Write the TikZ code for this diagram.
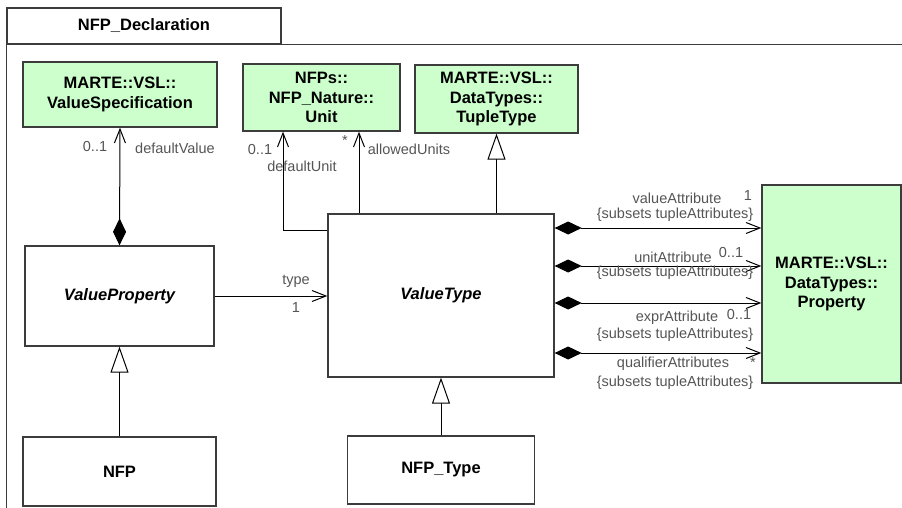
\documentclass[tikz,border=0pt]{standalone}
\usepackage{fontspec}
\setmainfont{Liberation Sans}
\usetikzlibrary{arrows.meta,calc}
\definecolor{boxgreen}{RGB}{204,255,204}
\definecolor{linec}{RGB}{60,60,60}
\definecolor{labc}{RGB}{85,85,85}
\begin{document}
\begin{tikzpicture}[x=1pt,y=-1pt,
  cls/.style={draw=linec,line width=1.3pt,minimum width=#1,inner sep=0pt,align=center,
     font=\fontsize{16.5}{19.5}\selectfont\bfseries},
  ext/.style={fill=boxgreen},
  lab/.style={text=labc,font=\fontsize{14.5}{16}\selectfont,inner sep=0pt},
  conn/.style={draw=black,line width=1pt},
  nav/.style={conn,-{Straight Barb[length=14pt,width=11pt,line width=1pt]}},
  compnav/.style={conn,{Diamond[length=27pt,width=13pt]}-{Straight Barb[length=14pt,width=11pt,line width=1pt]}},
  gen/.style={conn,-{Triangle[open,length=26pt,width=18pt,fill=white,line width=1pt]}}
]
\useasboundingbox (0,0) rectangle (902,508);
% package frame
\node[draw=linec,line width=1.3pt,minimum width=274pt,minimum height=36pt,inner sep=0pt,
  font=\fontsize{16.5}{19}\selectfont\bfseries] (tab) at (144,26) {NFP\_Declaration};
\coordinate (fr) at (902,44);
\coordinate (fb) at (7,508);
\draw[linec,line width=1.3pt] (tab.south west) -- (tab.south west -| fr);
\draw[linec,line width=1.3pt] (tab.north west) -- (tab.north west |- fb);
% classes
\node[cls=194pt,ext,minimum height=65pt] (vs) at (120,94.5) {MARTE::VSL::\\ValueSpecification};
\node[cls=157pt,ext,minimum height=67pt] (unit) at (321.5,97.5) {NFPs::\\NFP\_Nature::\\Unit};
\node[cls=163pt,ext,minimum height=68pt] (tt) at (496.5,99) {MARTE::VSL::\\DataTypes::\\TupleType};
\node[cls=189pt,minimum height=100pt] (vp) at (119.5,296) {\itshape ValueProperty};
\node[cls=226pt,minimum height=163pt] (vt) at (441,295.5) {\itshape ValueType};
\node[cls=193pt,minimum height=69pt] (nfp) at (119.5,471.5) {NFP};
\node[cls=187pt,minimum height=68pt] (nfpt) at (441,470) {NFP\_Type};
\node[cls=139pt,ext,minimum height=198pt] (prop) at (831.5,284) {MARTE::VSL::\\DataTypes::\\Property};
% defaultValue
\draw[compnav] (vp.north) -- (vs.south);
\node[lab] (m1) at (95,147) {0..1};
\node[lab] (r1) at (175,148) {defaultValue};
% defaultUnit
\coordinate (du) at (283,230);
\draw[nav] (vt.west |- du) -- (du) -- (du |- unit.south);
\node[lab] (m2) at (260,150) {0..1};
\node[lab] (r2) at (302,166) {defaultUnit};
% allowedUnits
\coordinate (au) at (359,0);
\draw[nav] (au |- vt.north) -- (au |- unit.south);
\node[lab] (m3) at (345,141) {*};
\node[lab] (r3) at (409,149) {allowedUnits};
% generalization to TupleType
\draw[gen] (vt.north -| tt.south) -- (tt.south);
% type
\draw[nav] (vp.east) -- (vp.east -| vt.west);
\node[lab] (r4) at (296,281) {type};
\node[lab] (m4) at (296,308) {1};
% generalizations
\draw[gen] (nfp.north) -- (vp.south);
\draw[gen] (nfpt.north) -- (vt.south);
% attributes to Property
\coordinate (a1) at (0,228);
\coordinate (a2) at (0,266);
\coordinate (a3) at (0,303);
\coordinate (a4) at (0,353);
\draw[compnav] (vt.east |- a1) -- (prop.west |- a1);
\draw[compnav] (vt.east |- a2) -- (prop.west |- a2);
\draw[compnav] (vt.east |- a3) -- (prop.west |- a3);
\draw[compnav] (vt.east |- a4) -- (prop.west |- a4);
\node[lab] (r5) at (677,198) {valueAttribute};
\node[lab] (m5) at (748,196) {1};
\node[lab] (s5) at (675,215) {\{subsets tupleAttributes\}};
\node[lab] (r6) at (673,257) {unitAttribute};
\node[lab] (m6) at (731,253) {0..1};
\node[lab] (s6) at (675,273) {\{subsets tupleAttributes\}};
\node[lab] (r7) at (677,318) {exprAttribute};
\node[lab] (m7) at (739,315) {0..1};
\node[lab] (s7) at (675,335) {\{subsets tupleAttributes\}};
\node[lab] (r8) at (673,364) {qualifierAttributes};
\node[lab] (m8) at (753,363) {*};
\node[lab] (s8) at (675,383) {\{subsets tupleAttributes\}};
\end{tikzpicture}
\end{document}
